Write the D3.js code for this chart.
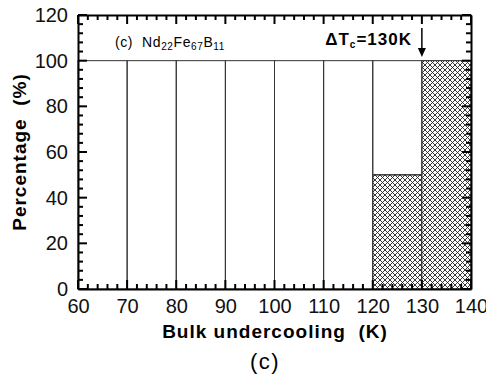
<!DOCTYPE html>
<html>
<head>
<meta charset="utf-8">
<script src="https://cdn.jsdelivr.net/npm/d3@7"></script>
<style>
  body { margin: 0; background: #fff; }
  svg { font-family: "Liberation Sans", Arial, sans-serif; }
  text { white-space: pre; }
</style>
</head>
<body>
<svg id="chart" width="486" height="379"></svg>
<script>
// bins of bulk undercooling (K), percentage split in two parts
const binStarts = [60, 70, 80, 90, 100, 110, 120, 130]
const binWidth = 10
const openPart = [100, 100, 100, 100, 100, 100, 50, 0]     // plain white part
const hatchedPart = [0, 0, 0, 0, 0, 0, 50, 100]           // cross-hatched part
const xTicks = [60, 70, 80, 90, 100, 110, 120, 130, 140]
const yTicks = [0, 20, 40, 60, 80, 100, 120]
const criticalT = 130

const svg = d3.select("#chart")
const plotL = 78, plotR = 471, plotT = 15, plotB = 289

const xScale = d3.scaleLinear().domain([60, 140]).range([plotL, plotR])
const yScale = d3.scaleLinear().domain([0, 120]).range([plotB, plotT])

// hatch pattern
const defs = svg.append("defs")
const pat = defs.append("pattern")
    .attr("id", "hatch")
    .attr("patternUnits", "userSpaceOnUse")
    .attr("width", 5).attr("height", 5)
pat.append("rect").attr("width", 5).attr("height", 5).attr("fill", "#fff")
pat.append("path")
    .attr("d", "M0,0 L5,5 M5,0 L0,5 M-1,4 L1,6 M4,-1 L6,1 M-1,1 L1,-1 M4,6 L6,4")
    .attr("stroke", "#222").attr("stroke-width", 0.9)

const bins = binStarts.map((s, i) => ({ s: s, open: openPart[i], hatch: hatchedPart[i] }))

// hatched lower parts
svg.selectAll("rect.hatch")
    .data(bins.filter(d => d.hatch > 0))
    .enter().append("rect")
    .attr("class", "hatch")
    .attr("x", d => xScale(d.s))
    .attr("width", d => xScale(d.s + binWidth) - xScale(d.s))
    .attr("y", d => yScale(d.hatch))
    .attr("height", d => yScale(0) - yScale(d.hatch))
    .attr("fill", "url(#hatch)")
    .attr("stroke", "#222").attr("stroke-width", 1)

// open upper parts
svg.selectAll("rect.open")
    .data(bins.filter(d => d.open > 0))
    .enter().append("rect")
    .attr("class", "open")
    .attr("x", d => xScale(d.s))
    .attr("width", d => xScale(d.s + binWidth) - xScale(d.s))
    .attr("y", d => yScale(d.hatch + d.open))
    .attr("height", d => yScale(d.hatch) - yScale(d.hatch + d.open))
    .attr("fill", "none")
    .attr("stroke", "#333").attr("stroke-width", 1)

// tick marks, pointing inward on all four sides
const minorX = d3.range(60, 141, 2).filter(v => v % 10 != 0)
const minorY = d3.range(0, 121, 4).filter(v => v % 20 != 0)
const xTickData = xTicks.map(v => ({ v: v, len: 9 })).concat(minorX.map(v => ({ v: v, len: 5 })))
const yTickData = yTicks.map(v => ({ v: v, len: 9 })).concat(minorY.map(v => ({ v: v, len: 5 })))

const ticks = svg.append("g").attr("stroke", "#000").attr("stroke-width", 2)
;[[plotB, -1], [plotT, 1]].forEach(([y0, dir]) => {
    ticks.append("g").selectAll("line").data(xTickData).enter().append("line")
        .attr("x1", d => xScale(d.v)).attr("x2", d => xScale(d.v))
        .attr("y1", y0).attr("y2", d => y0 + dir * d.len)
})
;[[plotL, 1], [plotR, -1]].forEach(([x0, dir]) => {
    ticks.append("g").selectAll("line").data(yTickData).enter().append("line")
        .attr("y1", d => yScale(d.v)).attr("y2", d => yScale(d.v))
        .attr("x1", x0).attr("x2", d => x0 + dir * d.len)
})

// axis frame + labels
const frame = (axisFn, scale, vals, transform) => {
    const g = svg.append("g").attr("transform", transform)
        .call(axisFn(scale).tickValues(vals).tickSize(0).tickPadding(10))
    g.select(".domain").attr("stroke", "#000").attr("stroke-width", 2)
    g.selectAll("text").attr("fill", "#111").style("font-size", "20px")
    return g
}
frame(d3.axisBottom, xScale, xTicks, `translate(0,${plotB})`)
    .selectAll("text").attr("y", 24).attr("dy", 0)
frame(d3.axisLeft, yScale, yTicks, `translate(${plotL},0)`)
frame(d3.axisTop, xScale, xTicks, `translate(0,${plotT})`).selectAll("text").remove()
frame(d3.axisRight, yScale, yTicks, `translate(${plotR},0)`).selectAll("text").remove()

// axis titles
svg.append("text")
    .attr("x", 275).attr("y", 338)
    .attr("text-anchor", "middle")
    .style("font-size", "19px").style("font-weight", "bold")
    .style("letter-spacing", "1px")
    .text("Bulk undercooling  (K)")

svg.append("text")
    .attr("transform", `translate(26,${(plotT + plotB) / 2}) rotate(-90)`)
    .attr("text-anchor", "middle")
    .style("font-size", "19px").style("font-weight", "bold")
    .style("letter-spacing", "1px")
    .text("Percentage  (%)")

// sample label
const lab = svg.append("text").attr("x", 115).attr("y", 47)
    .style("font-size", "14px").style("letter-spacing", "0.6px")
lab.append("tspan").text("(c)  Nd")
lab.append("tspan").attr("dy", 3).style("font-size", "10px").text("22")
lab.append("tspan").attr("dy", -3).text("Fe")
lab.append("tspan").attr("dy", 3).style("font-size", "10px").text("67")
lab.append("tspan").attr("dy", -3).text("B")
lab.append("tspan").attr("dy", 3).style("font-size", "10px").text("11")

// critical undercooling marker
const tc = svg.append("text").attr("x", 412).attr("y", 45)
    .attr("text-anchor", "end")
    .style("font-size", "17px").style("font-weight", "bold")
    .style("letter-spacing", "1px")
tc.append("tspan").text("ΔT")
tc.append("tspan").attr("dy", 3).style("font-size", "10px").text("c")
tc.append("tspan").attr("dy", -3).text("=130K")

const ax = xScale(criticalT)
svg.append("line")
    .attr("x1", ax).attr("x2", ax).attr("y1", 28).attr("y2", 50)
    .attr("stroke", "#000").attr("stroke-width", 1.5)
svg.append("path")
    .attr("d", `M${ax - 4},48 L${ax + 4},48 L${ax},57 Z`)
    .attr("fill", "#000")

// caption
svg.append("text")
    .attr("x", 265).attr("y", 369)
    .attr("text-anchor", "middle")
    .style("font-size", "22px").style("letter-spacing", "1.5px")
    .text("(c)")
</script>
</body>
</html>
